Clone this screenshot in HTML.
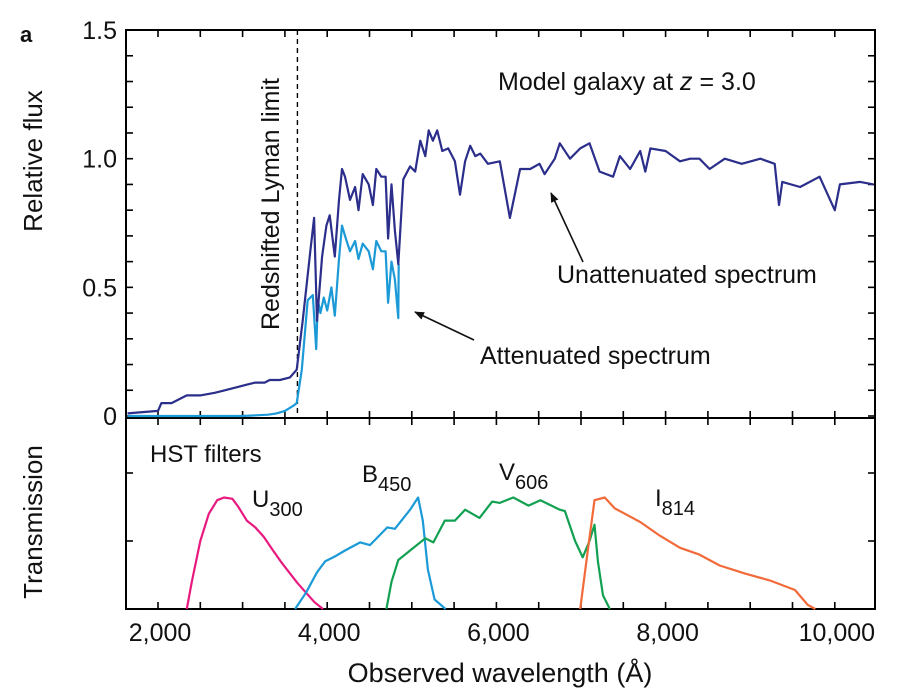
<!DOCTYPE html>
<html><head><meta charset="utf-8"><style>
body{margin:0;background:#fff}
svg text{font-family:"Liberation Sans",Arial,sans-serif;fill:#111}
</style></head><body>
<svg id="c" width="912" height="694" viewBox="0 0 912 694" xmlns="http://www.w3.org/2000/svg">
<text x="20" y="42" font-size="22" font-weight="bold">a</text>
<g id="axes"></g>
<g id="marks"></g>
<text x="498" y="90" font-size="25">Model galaxy at <tspan font-style="italic">z</tspan> = 3.0</text>
<text x="557" y="283" font-size="25">Unattenuated spectrum</text>
<text x="480" y="364" font-size="25">Attenuated spectrum</text>
<text transform="translate(279,330) rotate(-90)" font-size="25">Redshifted Lyman limit</text>
<text transform="translate(42,161) rotate(-90)" font-size="26" text-anchor="middle">Relative flux</text>
<text transform="translate(42,522) rotate(-90)" font-size="26" text-anchor="middle">Transmission</text>
<text x="500" y="682" font-size="27" text-anchor="middle">Observed wavelength (Å)</text>
<text x="150" y="462" font-size="24">HST filters</text>
<text x="252" y="507" font-size="24">U<tspan font-size="20" dy="9">300</tspan></text>
<text x="362" y="482" font-size="24">B<tspan font-size="20" dy="9">450</tspan></text>
<text x="499" y="480" font-size="24">V<tspan font-size="20" dy="9">606</tspan></text>
<text x="655" y="506" font-size="24">I<tspan font-size="20" dy="9">814</tspan></text>
</svg>
<script>
const unattLam=[1640,2000,2040,2160,2340,2500,2670,2790,2910,3030,3150,3260,3320,3440,3560,3640,3710,3800,3845,3880,3940,3990,4030,4090,4140,4175,4210,4270,4330,4370,4420,4490,4540,4580,4640,4690,4720,4760,4800,4840,4900,4980,5040,5100,5160,5200,5250,5300,5360,5430,5510,5570,5630,5690,5750,5810,5900,6040,6160,6280,6400,6510,6570,6690,6750,6870,6990,7100,7220,7380,7460,7580,7700,7760,7820,8000,8170,8290,8400,8520,8700,8900,9120,9290,9340,9380,9590,9820,10000,10060,10300,10459];
const unattFlux=[0.01,0.02,0.05,0.05,0.08,0.08,0.09,0.10,0.11,0.12,0.13,0.13,0.14,0.14,0.15,0.18,0.37,0.64,0.77,0.37,0.62,0.74,0.78,0.62,0.84,0.96,0.93,0.84,0.89,0.80,0.94,0.90,0.82,0.96,0.93,0.93,0.69,0.90,0.72,0.59,0.92,0.97,0.95,1.07,1.01,1.11,1.07,1.11,1.03,1.04,0.99,0.86,0.99,1.05,1.01,1.02,0.98,0.99,0.77,0.96,0.96,0.98,0.94,1.00,1.06,1.00,1.04,1.06,0.95,0.93,1.01,0.96,1.03,0.95,1.04,1.03,0.99,1.00,1.00,0.96,1.00,0.98,1.00,0.98,0.82,0.91,0.89,0.93,0.80,0.90,0.91,0.90];
const attLam=[1640,2500,3000,3300,3400,3500,3600,3640,3700,3770,3830,3870,3890,3920,3960,4000,4050,4090,4140,4175,4210,4270,4330,4370,4420,4490,4540,4580,4640,4690,4720,4760,4800,4840,4845];
const attFlux=[0,0,0,0.005,0.01,0.02,0.04,0.05,0.18,0.45,0.47,0.26,0.45,0.40,0.46,0.41,0.50,0.39,0.61,0.74,0.70,0.64,0.68,0.61,0.67,0.64,0.57,0.68,0.64,0.64,0.44,0.60,0.53,0.38,0.59];
const uLam=[2340,2400,2500,2600,2700,2780,2880,2950,3050,3150,3250,3350,3450,3550,3650,3750,3850,3950];
const uT=[0,0.2,0.5,0.7,0.8,0.82,0.81,0.75,0.65,0.6,0.53,0.44,0.35,0.27,0.19,0.12,0.05,0];
const bLam=[3620,3750,3880,3975,4100,4210,4390,4505,4710,4800,4980,5075,5130,5190,5270,5400];
const bT=[0,0.12,0.27,0.35,0.39,0.43,0.49,0.47,0.6,0.59,0.73,0.82,0.65,0.29,0.07,0];
const vLam=[4700,4760,4840,4980,5160,5255,5390,5510,5630,5800,5950,6040,6200,6380,6520,6750,6810,6930,7020,7100,7160,7200,7260,7340];
const vT=[0,0.2,0.36,0.43,0.52,0.49,0.65,0.65,0.73,0.67,0.79,0.78,0.82,0.76,0.8,0.73,0.72,0.5,0.38,0.5,0.62,0.35,0.1,0];
const iLam=[6990,7080,7160,7280,7400,7520,7700,7930,8170,8400,8640,8940,9230,9530,9680,9770];
const iT=[0,0.43,0.8,0.82,0.74,0.7,0.64,0.54,0.45,0.4,0.32,0.26,0.21,0.14,0.03,0];
const xTicks=[2000,4000,6000,8000,10000];
const xTickLabels=["2,000","4,000","6,000","8,000","10,000"];
const yTicks=[0,0.5,1.0,1.5];
const yTickLabels=["0","0.5","1.0","1.5"];

const L=126,R=875,T=30,M=418,B=609;
const x=l=>158+(l-2000)*0.0846;
const y=f=>416-f*257.3;
const yt=t=>609-t*136;
const NS="http://www.w3.org/2000/svg";
const ax=document.getElementById('axes'),mk=document.getElementById('marks');
function el(p,tag,a){const e=document.createElementNS(NS,tag);for(const k in a)e.setAttribute(k,a[k]);p.appendChild(e);return e;}
let e;
e=el(ax,'rect',{x:L,y:T,width:R-L,height:B-T,fill:'none',stroke:'#000','stroke-width':2});

e=el(ax,'line',{x1:L,x2:R,y1:M,y2:M,stroke:'#000','stroke-width':2});

for(let l=2000;l<=10000;l+=500){const X=x(l);
 [[T,T+7],[M-7,M+7],[B-7,B]].forEach(([a,b])=>{e=el(ax,'line',{x1:X,x2:X,y1:a,y2:b,stroke:'#000','stroke-width':1.6});
 });}
for(let f=0;f<=1.5001;f+=0.1){const Y=y(f);if(Y<T+2)continue;
 [[L,L+7],[R-7,R]].forEach(([a,b])=>{e=el(ax,'line',{x1:a,x2:b,y1:Y,y2:Y,stroke:'#000','stroke-width':1.6});
 });}
[0.5,1].forEach(t=>{const Y=yt(t);[[L,L+7],[R-7,R]].forEach(([a,b])=>{e=el(ax,'line',{x1:a,x2:b,y1:Y,y2:Y,stroke:'#000','stroke-width':1.6});
 });});
xTicks.forEach((l,i)=>{e=el(ax,'text',{x:x(l)+2,y:641,'font-size':25,'text-anchor':'middle'});e.textContent=xTickLabels[i];
 });
yTicks.forEach((f,i)=>{e=el(ax,'text',{x:117,y:y(f)+9,'font-size':25,'text-anchor':'end'});e.textContent=yTickLabels[i];
 });
e=el(ax,'line',{x1:x(3648),x2:x(3648),y1:T,y2:M,stroke:'#000','stroke-width':1.4,'stroke-dasharray':'5,4'});

function line(xs,ys,fy,col,name,w){const d=xs.map((l,i)=>(i?'L':'M')+x(l).toFixed(1)+','+fy(ys[i]).toFixed(1)).join('');
 const p=el(mk,'path',{d:d,fill:'none',stroke:col,'stroke-width':w,'stroke-linejoin':'round'});return p;}
e=line(attLam,attFlux,y,'#1b9ad7','attenuated',2.2);

e=line(unattLam,unattFlux,y,'#2b2e8a','unattenuated',2.2);

e=line(uLam,uT,yt,'#e8197f','u',2.2);
e=line(bLam,bT,yt,'#1b9ad7','b',2.2);
e=line(vLam,vT,yt,'#12a051','v',2.2);
e=line(iLam,iT,yt,'#f26a3a','i',2.2);
const defs=el(mk,'defs',{});const m=el(defs,'marker',{id:'ah',markerWidth:10,markerHeight:8,refX:9,refY:4,orient:'auto',markerUnits:'userSpaceOnUse'});
el(m,'path',{d:'M0,0L10,4L0,8Z',fill:'#111'});
e=el(mk,'line',{x1:583,y1:262,x2:551,y2:193,stroke:'#111','stroke-width':1.6,'marker-end':'url(#ah)'});

e=el(mk,'line',{x1:474,y1:340,x2:415,y2:312,stroke:'#111','stroke-width':1.6,'marker-end':'url(#ah)'});

</script>
</body></html>
